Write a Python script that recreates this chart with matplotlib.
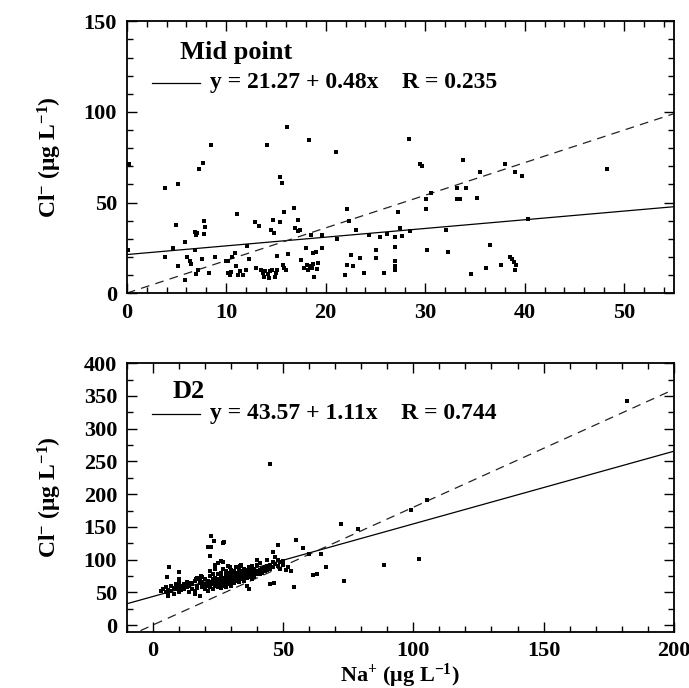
import matplotlib
matplotlib.use("Agg")
import matplotlib.pyplot as plt
from matplotlib.ticker import MultipleLocator

plt.rcParams["font.family"] = ["Liberation Serif", "DejaVu Serif"]
plt.rcParams["font.weight"] = "bold"
plt.rcParams["mathtext.fontset"] = "custom"
plt.rcParams["mathtext.rm"] = "Liberation Serif:bold"
plt.rcParams["mathtext.it"] = "Liberation Serif:bold"
plt.rcParams["mathtext.bf"] = "Liberation Serif:bold"

# ---------------------------------------------------
# Mid point (top panel)
# ---------------------------------------------------
mid_na = [0.1, 0.2, 3.8, 3.8, 4.6, 4.9, 5.1, 5.1, 5.9, 5.9, 6.1, 6.4, 6.5, 6.9, 6.9,
          7.1, 7.0, 7.0, 7.2, 7.3, 7.7, 7.6, 7.8, 7.9, 7.8, 8.3, 8.5, 8.9, 10.0, 10.2,
          10.2, 10.4, 10.6, 10.9, 11.1, 11.0, 11.2, 11.4, 11.7, 12.1, 12.3, 12.9, 13.3,
          13.0, 13.5, 13.8, 13.7, 14.1, 14.2, 14.3, 14.5, 14.7, 14.8, 14.6, 14.9, 15.1,
          15.1, 15.4, 15.4, 15.6, 15.8, 15.7, 15.8, 16.1, 16.2, 16.8, 16.9, 17.2, 17.2,
          17.4, 17.5, 18.0, 18.1, 18.2, 18.3, 18.4, 18.5, 18.7, 18.7, 18.8, 19.0, 19.1,
          19.2, 19.6, 19.6, 21.0, 21.1, 21.9, 22.1, 22.1, 22.3, 22.5, 22.7, 23.0, 23.4,
          23.8, 24.4, 25.1, 25.1, 25.5, 25.9, 26.2, 27.0, 27.0, 27.0, 27.0, 27.0, 27.3,
          27.5, 27.7, 28.4, 28.5, 29.5, 29.7, 30.1, 30.1, 30.2, 30.6, 32.1, 32.3, 33.2,
          33.2, 33.5, 33.8, 34.1, 34.6, 35.2, 35.5, 36.1, 36.5, 37.6, 38.0, 38.5, 38.7,
          38.9, 39.0, 39.0, 39.1, 39.7, 40.3, 48.3,
          13.9, 14.4, 15.0, 16.0, 18.6, 10.5, 12.0, 17.8]
mid_cl = [24, 71, 58, 20, 25, 37.5, 60, 15, 28, 7, 20, 17.5, 16, 24, 33.7,
          33, 32, 10.7, 13, 68.5, 72, 19, 40, 36.5, 32.4, 11, 81.5, 20, 17.5, 17.5,
          11, 10, 20, 22, 43.6, 15, 10, 12.3, 10, 26, 19, 39, 37,
          14, 13, 8.7, 11, 81.7, 10.7, 8.3, 35, 40.5, 33, 13, 8.8, 13,
          20.6, 39, 64, 60.5, 44.5, 15.6, 13.8, 91.7, 21.7, 47, 36, 40.5, 34.4,
          34.6, 18.4, 25, 15.6, 13, 84.7, 14.7, 32, 22, 16, 8.7, 22.6, 13.3,
          16.6, 32, 25, 78, 30, 10, 46.6, 15.3, 39.6, 21, 14.7, 34.6, 19.3,
          11, 32, 24, 19.3, 31, 11, 32.6, 31, 25.4, 17.5, 14.7, 12.5, 45,
          36, 31.3, 85, 34.2, 71, 70, 52, 46.6, 24, 55, 34.6, 22.6, 58,
          52, 52, 73.6, 58, 10.7, 52.5, 67, 13.8, 26.3, 15.3, 71, 20, 18.8,
          17, 67, 13, 15.5, 64.4, 41, 68.5,
          12, 12, 11, 12.5, 14, 11.5, 12.5, 14]
mid_fit = (21.27, 0.48)
mid_label = "y = 21.27 + 0.48x    R = 0.235"

# ---------------------------------------------------
# D2 (bottom panel)
# ---------------------------------------------------
d2_na = [4, 5, 5, 6, 6, 7, 7, 8, 8, 9, 9, 10, 10, 10, 11, 11,
         12, 12, 13, 13, 14, 14, 15, 15, 16, 16, 16, 17, 17, 17, 18, 18, 18, 19, 19, 19,
         20, 20, 20,
         21, 21, 21, 22, 22, 22, 22, 23, 23, 23, 23, 24, 24, 24, 24, 25, 25, 25, 25, 25,
         26, 26, 26, 26, 26, 27, 27, 27, 27, 27, 28, 28, 28, 28, 28, 29, 29, 29, 29, 29,
         30, 30, 30, 30, 30,
         31, 31, 31, 31, 32, 32, 32, 32, 33, 33, 33, 33, 34, 34, 34, 34, 35, 35, 35, 35,
         36, 36, 36, 36, 37, 37, 37, 37, 38, 38, 38, 38, 39, 39, 39, 40, 40, 40, 40,
         41, 41, 41, 42, 42, 43, 43, 44, 44, 44, 45, 45, 46, 46, 46, 47, 47, 48, 48, 48,
         49, 49, 50, 50, 51, 52, 53,
         6.4, 5.6, 10.2, 10.2, 6.0, 22.5, 21.3, 27.1, 22.1, 23.3, 27.5, 22.3,
         45, 46.4, 54.3, 55.1, 57.5, 60, 64.4, 61.5, 63.2, 66.3, 73.4,
         72.2, 78.6, 88.9, 102, 99.2, 105.2, 45, 182,
         3, 8.5, 12.5, 14.5, 19.5, 21.5, 23.5, 24.5, 26.5, 28.5, 30.5, 32.5, 34.5,
         36.5, 38.5, 42.5, 18.5, 16.5, 29.5, 33.5, 26, 24]
d2_cl = [55, 50, 58, 47, 53, 52, 60, 56, 48, 62, 55, 58, 50, 65, 60, 53,
         62, 55, 58, 66, 50, 60, 55, 63, 52, 68, 48, 60, 72, 56, 64, 70, 45, 58, 66, 74,
         62, 55, 70,
         60, 68, 52, 65, 58, 75, 82, 62, 70, 55, 78, 66, 60, 72, 85, 64, 58, 70, 78, 95,
         62, 68, 74, 80, 56, 66, 72, 60, 85, 96, 70, 64, 76, 82, 58, 68, 74, 62, 80, 90,
         72, 66, 78, 84, 60,
         70, 76, 82, 64, 74, 68, 80, 88, 72, 78, 84, 66, 76, 70, 82, 92, 74, 80, 86, 68,
         78, 72, 84, 60, 80, 74, 88, 55, 76, 82, 90, 70, 80, 86, 74, 82, 78, 92, 100,
         84, 78, 95, 86, 80, 88, 82, 90, 84, 100, 92, 86, 88, 96, 112, 94, 104, 90, 100, 122,
         96, 86, 98, 92, 84, 88, 82,
         89, 74, 81, 71, 44, 136, 119, 126, 105, 128, 127, 119,
         63, 64, 58, 130, 118, 108.7, 109, 77, 78.5, 89, 67,
         154, 147, 92, 101.6, 176, 190.7, 245.5, 343,
         52, 57, 59, 64, 61, 63, 67, 69, 71, 73, 75, 77, 79,
         81, 84, 87, 75, 71, 88, 90, 98, 92]
d2_fit = (43.57, 1.11)
d2_label = "y = 43.57 + 1.11x    R = 0.744"

# seawater Cl/Na ratio (dashed)
sw_ratio = 1.8

fig = plt.figure(figsize=(6.89, 6.88), dpi=100)
ax1 = fig.add_axes([0.184, 0.574, 0.794, 0.395])
ax2 = fig.add_axes([0.184, 0.082, 0.794, 0.390])

ylab = "Cl$^{-}$ (μg L$^{-1}$)"


def style_axis(ax, xlim, ylim, xmaj, xmin, ymaj, ymin):
    ax.set_xlim(*xlim)
    ax.set_ylim(*ylim)
    ax.xaxis.set_major_locator(MultipleLocator(xmaj))
    ax.xaxis.set_minor_locator(MultipleLocator(xmin))
    ax.yaxis.set_major_locator(MultipleLocator(ymaj))
    ax.yaxis.set_minor_locator(MultipleLocator(ymin))
    ax.tick_params(which="both", direction="in", top=True, right=True, width=1.0)
    ax.tick_params(which="major", length=7, labelsize=16, pad=7)
    ax.tick_params(which="minor", length=4)
    for s in ax.spines.values():
        s.set_linewidth(1.3)
    for lab in ax.get_xticklabels() + ax.get_yticklabels():
        lab.set_fontweight("bold")
    ax.set_ylabel(ylab, fontsize=17, fontweight="bold", labelpad=14)


def draw_panel(ax, na, cl, fit, label, title, xlim, title_y, leg_y):
    xs = [xlim[0], xlim[1]]
    ax.plot(xs, [fit[0] + fit[1] * v for v in xs], color="black", lw=0.9)
    ax.plot(xs, [sw_ratio * v for v in xs], color="#222222", lw=0.9,
            ls=(0, (7, 5)))
    ax.plot(na, cl, "s", color="black", ms=3.0, mew=0, clip_on=True)
    ax.text(0.097, title_y, title, transform=ax.transAxes, fontsize=19,
            fontweight="bold", va="center")
    ax.plot([0.046, 0.134], [leg_y, leg_y], color="black", lw=0.9,
            transform=ax.transAxes)
    ax.text(0.152, leg_y, label, transform=ax.transAxes, fontsize=17,
            fontweight="bold", va="center")


draw_panel(ax1, mid_na, mid_cl, mid_fit, mid_label, "Mid point", (0, 55), 0.885, 0.774)
style_axis(ax1, (0, 55), (0, 150), 10, 2, 50, 10)

draw_panel(ax2, d2_na, d2_cl, d2_fit, d2_label, "D2", (-10, 200), 0.895, 0.812)
ax2.texts[0].set_x(0.083)
style_axis(ax2, (-10, 200), (-10, 400), 50, 10, 50, 25)
ax2.set_xlabel("Na$^{+}$ (μg L$^{-1}$)", fontsize=16, fontweight="bold", labelpad=0)

fig.savefig("out.png", dpi=100)
